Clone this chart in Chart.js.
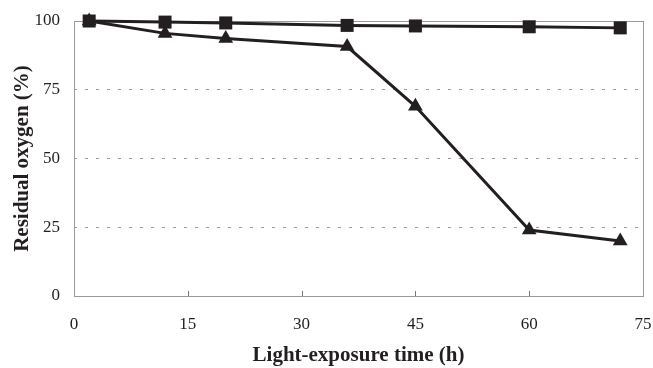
<!DOCTYPE html>
<html>
<head>
<meta charset="utf-8">
<script src="https://cdn.jsdelivr.net/npm/chart.js@4/dist/chart.umd.min.js"></script>
<style>
  html, body { margin: 0; padding: 0; background: #fff; }
  #myChart { display: block; }
</style>
</head>
<body>
<canvas id="myChart" width="653" height="368"></canvas>
<script>
// dữ liệu
const hours = [2, 12, 20, 36, 45, 60, 72];
const squareSeries = [100, 99.6, 99.3, 98.4, 98.2, 97.9, 97.5];
const triangleSeries = [100, 95.5, 93.6, 90.7, 69, 24, 20];
const xTicks = [0, 15, 30, 45, 60, 75];
const yTicks = [0, 25, 50, 75, 100];

const ink = '#231f20';
const serif = "'Liberation Serif', 'Times New Roman', serif";

const toPoints = (ys) => hours.map((h, i) => ({ x: h, y: ys[i] }));

// khung xám + vạch chia trục x hướng vào trong
const framePlugin = {
    id: 'frame',
    beforeDatasetsDraw(chart) {
        const { ctx, chartArea: a, scales } = chart;
        ctx.save();
        ctx.strokeStyle = '#9a9a9a';
        ctx.lineWidth = 1;
        ctx.strokeRect(Math.round(a.left) + 0.5, Math.round(a.top) + 0.5,
            Math.round(a.right - a.left), Math.round(a.bottom - a.top));
        ctx.strokeStyle = '#777';
        xTicks.slice(1, -1).forEach(v => {
            const px = Math.round(scales.x.getPixelForValue(v)) + 0.5;
            ctx.beginPath();
            ctx.moveTo(px, a.bottom);
            ctx.lineTo(px, a.bottom - 5);
            ctx.stroke();
        });
        ctx.restore();
    }
};

const ctx = document.getElementById('myChart').getContext('2d');

const myChart = new Chart(ctx, {
    type: 'line',
    data: {
        datasets: [{
            label: 'square',
            data: toPoints(squareSeries),
            borderColor: ink,
            backgroundColor: ink,
            borderWidth: 3,
            pointStyle: 'rect',
            pointRadius: 9.2,
            pointBorderWidth: 0,
            clip: false
        }, {
            label: 'triangle',
            data: toPoints(triangleSeries),
            borderColor: ink,
            backgroundColor: ink,
            borderWidth: 3,
            pointStyle: 'triangle',
            pointRadius: 8.5,
            pointBorderWidth: 0,
            clip: false
        }]
    },
    options: {
        responsive: false,
        animation: false,
        devicePixelRatio: 1,
        layout: { padding: { top: 21, right: 10, left: 0, bottom: 0 } },
        plugins: { legend: { display: false }, tooltip: { enabled: false } },
        elements: { line: { tension: 0 } },
        scales: {
            x: {
                type: 'linear',
                min: 0,
                max: 75,
                afterBuildTicks: (s) => { s.ticks = xTicks.map(v => ({ value: v })); },
                afterFit: (s) => { s.height = 72; s.paddingLeft = 0; s.paddingRight = 0; },
                grid: { display: false, drawTicks: false },
                border: { display: false },
                ticks: { color: ink, font: { family: serif, size: 17 }, padding: 18, maxRotation: 0 },
                title: {
                    display: true,
                    text: 'Light-exposure time (h)',
                    color: ink,
                    font: { family: serif, size: 21, weight: 'bold' },
                    padding: { top: 0, bottom: 0 }
                }
            },
            y: {
                min: 0,
                max: 100,
                afterBuildTicks: (s) => { s.ticks = yTicks.map(v => ({ value: v })); },
                afterFit: (s) => { s.width = 74; s.paddingTop = 0; s.paddingBottom = 0; },
                grid: {
                    drawTicks: false,
                    color: (c) => (c.tick && c.tick.value > 0 && c.tick.value < 100) ? '#9a9a9a' : 'rgba(0,0,0,0)',
                    lineWidth: 1
                },
                border: { display: false, dash: [3, 8] },
                ticks: { color: ink, font: { family: serif, size: 17 }, padding: 14 },
                title: {
                    display: true,
                    text: 'Residual oxygen (%)',
                    color: ink,
                    font: { family: serif, size: 21, weight: 'bold' },
                    padding: { top: 10, bottom: 0 }
                }
            }
        }
    },
    plugins: [framePlugin]
});
</script>
</body>
</html>
